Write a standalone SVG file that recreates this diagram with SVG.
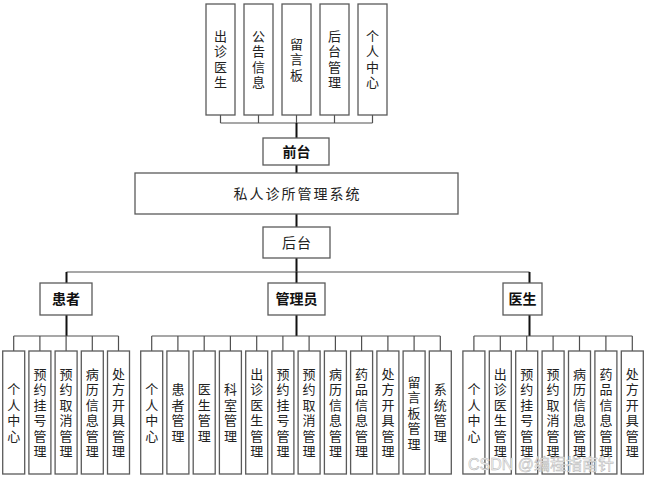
<svg xmlns="http://www.w3.org/2000/svg" width="656" height="482" viewBox="0 0 656 482">
<style>
.bx{fill:#fff;stroke:#5a5a5a;stroke-width:1.3}
.ln{fill:none;stroke:#505050;stroke-width:1.2}
.tk{fill:none;stroke:#111;stroke-width:2}
.t{font-family:"Liberation Sans","Noto Sans CJK SC",sans-serif;font-size:13px;fill:#222;text-anchor:middle}
.h{font-family:"Liberation Sans","Noto Sans CJK SC",sans-serif;font-size:14px;font-weight:bold;fill:#111;text-anchor:middle}
.s{font-family:"Liberation Serif","Noto Sans CJK SC",serif;font-size:14px;fill:#222;text-anchor:middle}
.wm{font-family:"Liberation Sans","Noto Sans CJK SC",sans-serif;font-size:16px;fill:#f4f4f4;stroke:#b0b0b0;stroke-width:0.45}
</style>
<rect width="656" height="482" fill="#fff"/>
<g id="connectors">
<path class="ln" d="M220.5 115V123M258.5 115V123M296.5 115V123M334.5 115V123M372.5 115V123M220.5 123H372.5"/>
<path class="tk" d="M296.5 123V138M296.5 165V173M296.5 214V227M296.5 258V272"/>
<path class="ln" d="M66.5 272H529.5"/>
<path class="tk" d="M66.5 272V283M296.5 272V283M529.5 272V283"/>
<path class="tk" d="M66.5 315V336M296.5 315V336M529.5 315V336"/>
<path class="ln" d="M13.7 336H118.5M13.7 336V351M39.9 336V351M66.1 336V351M92.3 336V351M118.5 336V351"/>
<path class="ln" d="M151.7 336H440.3M151.7 336V351M177.9 336V351M204.2 336V351M230.4 336V351M256.7 336V351M282.9 336V351M309.1 336V351M335.4 336V351M361.6 336V351M387.9 336V351M414.1 336V351M440.3 336V351"/>
<path class="ln" d="M473.9 336H632.3M473.9 336V351M500.3 336V351M526.7 336V351M553.1 336V351M579.5 336V351M605.9 336V351M632.3 336V351"/>
</g>
<g id="top-chuzhen"><rect class="bx" x="206" y="4" width="29" height="111"/><text class="t" x="220.5 220.5 220.5 220.5" y="40.9 56.4 71.9 87.4">出诊医生</text></g>
<g id="top-gonggao"><rect class="bx" x="244" y="4" width="29" height="111"/><text class="t" x="258.5 258.5 258.5 258.5" y="40.9 56.4 71.9 87.4">公告信息</text></g>
<g id="top-liuyan"><rect class="bx" x="282" y="4" width="29" height="111"/><text class="t" x="296.5 296.5 296.5" y="48.6 64.1 79.6">留言板</text></g>
<g id="top-houtai"><rect class="bx" x="320" y="4" width="29" height="111"/><text class="t" x="334.5 334.5 334.5 334.5" y="40.9 56.4 71.9 87.4">后台管理</text></g>
<g id="top-geren"><rect class="bx" x="358" y="4" width="29" height="111"/><text class="t" x="372.5 372.5 372.5 372.5" y="40.9 56.4 71.9 87.4">个人中心</text></g>
<g id="qiantai"><rect class="bx" x="263" y="138" width="66" height="27"/><text class="h" x="296.5" y="156.5">前台</text></g>
<g id="system"><rect class="bx" x="135" y="173" width="323" height="41"/><text class="s" x="297.5" y="199" letter-spacing="2">私人诊所管理系统</text></g>
<g id="houtai"><rect class="bx" x="263" y="227" width="67" height="31"/><text class="s" x="297" y="247.5" font-size="13" letter-spacing="1">后台</text></g>
<g id="patient"><rect class="bx" x="40" y="283" width="52" height="32"/><text class="h" x="66" y="304">患者</text></g>
<g id="admin"><rect class="bx" x="268" y="283" width="57" height="32"/><text class="h" x="296.5" y="304">管理员</text></g>
<g id="doctor"><rect class="bx" x="503" y="283" width="39" height="32"/><text class="h" x="522.5" y="304">医生</text></g>
<g id="p1"><rect class="bx" x="2.7" y="351" width="22" height="123"/><text class="t" x="13.7 13.7 13.7 13.7" y="394.4 409.9 425.4 440.9">个人中心</text></g>
<g id="p2"><rect class="bx" x="28.9" y="351" width="22" height="123"/><text class="t" x="39.9 39.9 39.9 39.9 39.9 39.9" y="378.9 394.4 409.9 425.4 440.9 456.4">预约挂号管理</text></g>
<g id="p3"><rect class="bx" x="55.1" y="351" width="22" height="123"/><text class="t" x="66.1 66.1 66.1 66.1 66.1 66.1" y="378.9 394.4 409.9 425.4 440.9 456.4">预约取消管理</text></g>
<g id="p4"><rect class="bx" x="81.3" y="351" width="22" height="123"/><text class="t" x="92.3 92.3 92.3 92.3 92.3 92.3" y="378.9 394.4 409.9 425.4 440.9 456.4">病历信息管理</text></g>
<g id="p5"><rect class="bx" x="107.5" y="351" width="22" height="123"/><text class="t" x="118.5 118.5 118.5 118.5 118.5 118.5" y="378.9 394.4 409.9 425.4 440.9 456.4">处方开具管理</text></g>
<g id="a1"><rect class="bx" x="140.7" y="351" width="22" height="123"/><text class="t" x="151.7 151.7 151.7 151.7" y="394.4 409.9 425.4 440.9">个人中心</text></g>
<g id="a2"><rect class="bx" x="166.9" y="351" width="22" height="123"/><text class="t" x="177.9 177.9 177.9 177.9" y="394.4 409.9 425.4 440.9">患者管理</text></g>
<g id="a3"><rect class="bx" x="193.2" y="351" width="22" height="123"/><text class="t" x="204.2 204.2 204.2 204.2" y="394.4 409.9 425.4 440.9">医生管理</text></g>
<g id="a4"><rect class="bx" x="219.4" y="351" width="22" height="123"/><text class="t" x="230.4 230.4 230.4 230.4" y="394.4 409.9 425.4 440.9">科室管理</text></g>
<g id="a5"><rect class="bx" x="245.7" y="351" width="22" height="123"/><text class="t" x="256.7 256.7 256.7 256.7 256.7 256.7" y="378.9 394.4 409.9 425.4 440.9 456.4">出诊医生管理</text></g>
<g id="a6"><rect class="bx" x="271.9" y="351" width="22" height="123"/><text class="t" x="282.9 282.9 282.9 282.9 282.9 282.9" y="378.9 394.4 409.9 425.4 440.9 456.4">预约挂号管理</text></g>
<g id="a7"><rect class="bx" x="298.1" y="351" width="22" height="123"/><text class="t" x="309.1 309.1 309.1 309.1 309.1 309.1" y="378.9 394.4 409.9 425.4 440.9 456.4">预约取消管理</text></g>
<g id="a8"><rect class="bx" x="324.4" y="351" width="22" height="123"/><text class="t" x="335.4 335.4 335.4 335.4 335.4 335.4" y="378.9 394.4 409.9 425.4 440.9 456.4">病历信息管理</text></g>
<g id="a9"><rect class="bx" x="350.6" y="351" width="22" height="123"/><text class="t" x="361.6 361.6 361.6 361.6 361.6 361.6" y="378.9 394.4 409.9 425.4 440.9 456.4">药品信息管理</text></g>
<g id="a10"><rect class="bx" x="376.9" y="351" width="22" height="123"/><text class="t" x="387.9 387.9 387.9 387.9 387.9 387.9" y="378.9 394.4 409.9 425.4 440.9 456.4">处方开具管理</text></g>
<g id="a11"><rect class="bx" x="403.1" y="351" width="22" height="123"/><text class="t" x="414.1 414.1 414.1 414.1 414.1" y="386.6 402.1 417.6 433.1 448.6">留言板管理</text></g>
<g id="a12"><rect class="bx" x="429.3" y="351" width="22" height="123"/><text class="t" x="440.3 440.3 440.3 440.3" y="394.4 409.9 425.4 440.9">系统管理</text></g>
<g id="d1"><rect class="bx" x="462.9" y="351" width="22" height="123"/><text class="t" x="473.9 473.9 473.9 473.9" y="394.4 409.9 425.4 440.9">个人中心</text></g>
<g id="d2"><rect class="bx" x="489.3" y="351" width="22" height="123"/><text class="t" x="500.3 500.3 500.3 500.3 500.3 500.3" y="378.9 394.4 409.9 425.4 440.9 456.4">出诊医生管理</text></g>
<g id="d3"><rect class="bx" x="515.7" y="351" width="22" height="123"/><text class="t" x="526.7 526.7 526.7 526.7 526.7 526.7" y="378.9 394.4 409.9 425.4 440.9 456.4">预约挂号管理</text></g>
<g id="d4"><rect class="bx" x="542.1" y="351" width="22" height="123"/><text class="t" x="553.1 553.1 553.1 553.1 553.1 553.1" y="378.9 394.4 409.9 425.4 440.9 456.4">预约取消管理</text></g>
<g id="d5"><rect class="bx" x="568.5" y="351" width="22" height="123"/><text class="t" x="579.5 579.5 579.5 579.5 579.5 579.5" y="378.9 394.4 409.9 425.4 440.9 456.4">病历信息管理</text></g>
<g id="d6"><rect class="bx" x="594.9" y="351" width="22" height="123"/><text class="t" x="605.9 605.9 605.9 605.9 605.9 605.9" y="378.9 394.4 409.9 425.4 440.9 456.4">药品信息管理</text></g>
<g id="d7"><rect class="bx" x="621.3" y="351" width="22" height="123"/><text class="t" x="632.3 632.3 632.3 632.3 632.3 632.3" y="378.9 394.4 409.9 425.4 440.9 456.4">处方开具管理</text></g>
<text class="wm" x="468" y="470">CSDN @编程指南针</text>
</svg>
